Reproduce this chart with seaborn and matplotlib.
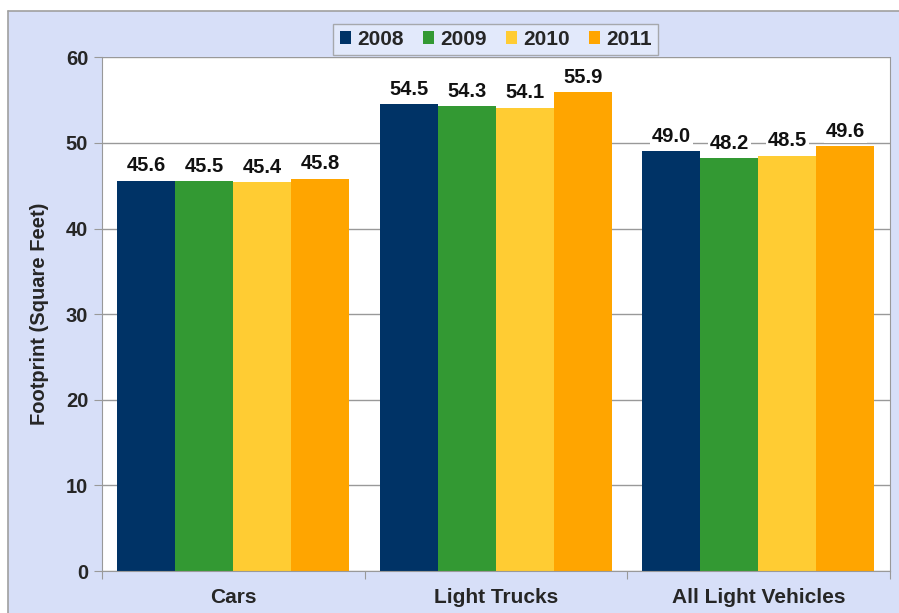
import matplotlib
matplotlib.use("Agg")
import matplotlib.pyplot as plt
import pandas as pd
import seaborn as sns
from matplotlib.lines import Line2D
from matplotlib.patches import Rectangle

# ---------------------------
# DATA
# ---------------------------
categories = ["Cars", "Light Trucks", "All Light Vehicles"]
years = ["2008", "2009", "2010", "2011"]
values_2008 = [45.6, 54.5, 49.0]
values_2009 = [45.5, 54.3, 48.2]
values_2010 = [45.4, 54.1, 48.5]
values_2011 = [45.8, 55.9, 49.6]
colors = ["#003366", "#339933", "#FFCC33", "#FFA500"]

series = [values_2008, values_2009, values_2010, values_2011]
rows = []
for year, vals in zip(years, series):
    for cat, v in zip(categories, vals):
        rows.append({"Category": cat, "Year": year, "Footprint": v})
df = pd.DataFrame(rows)

# ---------------------------
# PLOT
# ---------------------------
sns.set_style("white")
plt.rcParams["font.family"] = ["Liberation Sans", "DejaVu Sans"]
plt.rcParams["font.weight"] = "bold"

bg = "#D7DFF8"
fig = plt.figure(figsize=(8.99, 6.13), dpi=100, facecolor=bg)

# white margin strips on top/left, with a thin grey border line
x0 = 8 / 899
y0 = 1 - 11 / 613
fig.patches.append(Rectangle((0, y0), 1, 1 - y0, transform=fig.transFigure,
                             facecolor="white", edgecolor="none", zorder=-1))
fig.patches.append(Rectangle((0, 0), x0, 1, transform=fig.transFigure,
                             facecolor="white", edgecolor="none", zorder=-1))
fig.add_artist(Line2D([x0, 1], [y0, y0], transform=fig.transFigure,
                      color="#A0A0A0", linewidth=1.2))
fig.add_artist(Line2D([x0, x0], [0, y0], transform=fig.transFigure,
                      color="#A0A0A0", linewidth=1.2))

ax = fig.add_axes([0.1135, 0.0685, 0.876, 0.838])
ax.set_facecolor("white")

sns.barplot(data=df, x="Category", y="Footprint", hue="Year",
            palette=colors, width=0.885, gap=0, saturation=1,
            edgecolor="none", ax=ax, zorder=2)

ax.set_ylim(0, 60)
ax.set_yticks(range(0, 61, 10))
ax.set_xlim(-0.5, 2.5)
ax.yaxis.grid(True, color="#999999", linewidth=1, zorder=0)
ax.set_axisbelow(True)

ax.spines["top"].set_visible(False)
for s in ["left", "bottom", "right"]:
    ax.spines[s].set_color("#999999")

# bar labels with white background
for cont in ax.containers:
    labels = ax.bar_label(cont, fmt="%.1f", padding=4, fontsize=14.5,
                          fontweight="bold", color="#111111")
    for t in labels:
        t.set_bbox(dict(facecolor="white", edgecolor="none", pad=1.5))

ax.set_xlabel("")
ax.set_ylabel("Footprint (Square Feet)", fontsize=14.5, fontweight="bold",
              labelpad=12)
ax.tick_params(axis="y", labelsize=14.5, length=6, color="#999999",
               direction="out", left=True, pad=4)
ax.set_xticks([-0.5, 0.5, 1.5, 2.5], minor=False)
ax.set_xticklabels([])
ax.set_xticks([0, 1, 2], minor=True)
ax.set_xticklabels(categories, minor=True, fontsize=15, fontweight="bold")
ax.tick_params(axis="x", which="major", length=6, color="#999999",
               direction="out", bottom=True)
ax.tick_params(axis="x", which="minor", length=0, pad=12)

leg = ax.legend(loc="upper center", bbox_to_anchor=(0.5, 1.086), ncol=4,
                frameon=True, fontsize=15, handlelength=0.55,
                handleheight=0.55, handletextpad=0.3, columnspacing=0.9,
                borderpad=0.3, fancybox=False)
leg.get_frame().set_facecolor("#E6ECFC")
leg.get_frame().set_edgecolor("#999999")
for t in leg.get_texts():
    t.set_fontweight("bold")

fig.savefig("out.png", dpi=100, facecolor=bg)
